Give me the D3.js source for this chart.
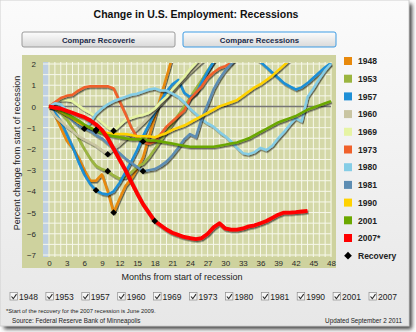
<!DOCTYPE html>
<html>
<head>
<meta charset="utf-8" />
<script src="https://cdn.jsdelivr.net/npm/d3@7"></script>
<title>Change in U.S. Employment: Recessions</title>
<style>
	body { margin: 0; background: #fff; }
	svg text { font-family: "Liberation Sans", Arial, sans-serif; }
</style>
</head>
<body>
<script>
// percent change in payroll employment, one value per month since the start of each recession
var v1948 = [0, -0.4, -1.0, -1.6, -1.95, -2.4, -3.0, -3.5, -3.5, -3.2, -4.0, -5.0, -4.35, -3.75, -3.4, -2.95, -2.4, -1.45, -0.5, 0.45, 1.4, 2.35, 3.0];
var v1953 = [0, -0.1, -0.3, -0.6, -1.0, -1.5, -2.0, -2.45, -2.8, -2.95, -3.05, -3.25, -3.4, -3.35, -3.1, -2.85, -2.7, -2.4, -2.0, -1.6, -1.2, -0.8, -0.4, 0.0, 0.4, 0.85, 1.25, 1.7, 2.1, 2.5];
var v1957 = [0, -0.3, -0.7, -1.3, -1.9, -2.6, -3.2, -3.65, -3.95, -4.1, -4.15, -4.0, -3.6, -3.1, -2.6, -2.05, -1.4, -0.85, -0.3, 0.25, 0.7, 1.05, 1.25, 0.65, 0.45, 0.6, 1.15, 1.65, 2.1, 2.5, 2.7, 2.9, 3.0, 2.8, 2.55, 2.3, 2.1, 1.85, 1.6, 1.35, 1.1, 0.95, 0.8, 0.9, 1.1, 1.35, 1.6, 1.85, 2.05];
var v1960 = [0, -0.45, -0.7, -0.95, -1.15, -1.4, -1.55, -1.7, -1.85, -2.05, -2.25, -2.0, -1.8, -1.55, -1.3, -1.05, -0.8, -0.5, -0.2, 0.1, 0.4, 0.7, 1.0, 1.3, 1.6, 1.85, 2.1, 2.4];
var v1969 = [0, 0.15, 0.3, 0.3, 0.25, 0.05, -0.15, -0.3, -0.5, -0.75, -1.0, -1.15, -0.9, -0.65, -0.55, -0.45, -0.4, -0.3, -0.1, 0.2, 0.45, 0.8, 1.1, 1.4, 1.75, 2.05, 2.4];
var v1973 = [0, 0.2, 0.4, 0.5, 0.55, 0.75, 0.9, 0.95, 0.95, 0.95, 0.95, 0.85, 0.25, -0.35, -1.0, -1.45, -1.65, -1.75, -1.65, -1.3, -0.95, -0.7, -0.45, -0.2, 0.35, 0.65, 0.95, 1.35, 1.6, 1.8, 1.9, 2.05, 2.3];
var v1980 = [0, 0.15, 0.1, -0.2, -0.6, -0.9, -1.05, -0.75, -0.35, -0.1, 0.1, 0.25, 0.35, 0.45, 0.55, 0.6, 0.7, 0.8, 0.85, 0.75, 0.75, 0.6, 0.45, 0.2, -0.1, -0.35, -0.6, -0.8, -0.95, -1.2, -1.4, -1.65, -1.95, -2.2, -2.25, -2.15, -1.95, -2.05, -1.85, -1.5, -1.2, -0.85, -0.55, -0.7, 0.45, 0.85, 1.3, 1.7, 2.0];
var v1981 = [0, -0.05, -0.2, -0.4, -0.65, -0.85, -1.0, -1.15, -1.35, -1.5, -1.75, -1.95, -2.2, -2.45, -2.65, -2.85, -3.05, -3.0, -2.95, -2.8, -2.6, -2.3, -1.95, -1.55, -1.3, -1.45, -0.55, 0.1, 0.8, 1.3, 1.7, 2.0, 2.3];
var v1990 = [0, -0.1, -0.25, -0.4, -0.55, -0.75, -0.9, -1.0, -1.1, -1.2, -1.25, -1.3, -1.3, -1.3, -1.35, -1.4, -1.4, -1.4, -1.45, -1.35, -1.25, -1.1, -1.0, -0.9, -0.75, -0.6, -0.45, -0.3, -0.15, 0.0, 0.1, 0.2, 0.3, 0.5, 0.7, 0.9, 1.05, 1.25, 1.45, 1.7, 1.95, 2.2];
var v2001 = [0, -0.05, -0.2, -0.35, -0.5, -0.65, -0.85, -1.0, -1.15, -1.25, -1.35, -1.4, -1.45, -1.5, -1.55, -1.55, -1.55, -1.6, -1.6, -1.65, -1.7, -1.75, -1.8, -1.85, -1.9, -1.9, -1.9, -1.9, -1.9, -1.85, -1.8, -1.75, -1.7, -1.6, -1.5, -1.35, -1.2, -1.05, -0.9, -0.75, -0.65, -0.55, -0.45, -0.3, -0.15, -0.05, 0.05, 0.15, 0.25];
var v2007 = [0, -0.05, -0.1, -0.2, -0.3, -0.4, -0.5, -0.65, -0.85, -1.1, -1.5, -2.0, -2.5, -3.0, -3.55, -4.1, -4.6, -5.0, -5.4, -5.6, -5.8, -5.95, -6.05, -6.15, -6.2, -6.25, -6.2, -6.0, -5.7, -5.5, -5.75, -5.8, -5.8, -5.75, -5.65, -5.6, -5.5, -5.4, -5.25, -5.1, -5.0, -5.0, -4.98, -4.95, -4.92];

var years = ["1948", "1953", "1957", "1960", "1969", "1973", "1980", "1981", "1990", "2001", "2007"];
var legendNames = ["1948", "1953", "1957", "1960", "1969", "1973", "1980", "1981", "1990", "2001", "2007*"];
var series = [v1948, v1953, v1957, v1960, v1969, v1973, v1980, v1981, v1990, v2001, v2007];
var colors = ["#e8890c", "#9bb53f", "#1e8fd6", "#c9c5a2", "#e6f4a4", "#f0612b", "#85cde6", "#5d8db3", "#ffd200", "#6ba800", "#ff0000"];
// month of the trough (start of recovery) for each recession
var troughMonth = [11, 10, 8, 10, 11, 16, 6, 16, 8, 8, 18];

var xTicks = d3.range(0, 49, 3);
var yTicks = [2, 1, 0, -1, -2, -3, -4, -5, -6, -7];

var w = 416, h = 332;
var svg = d3.select("body").append("svg")
	.attr("width", w)
	.attr("height", h);

var defs = svg.append("defs");
var bg = defs.append("linearGradient").attr("id", "bg")
	.attr("x1", 0).attr("y1", 0).attr("x2", 0).attr("y2", 1);
bg.append("stop").attr("offset", "0%").attr("stop-color", "#fbfbfb");
bg.append("stop").attr("offset", "100%").attr("stop-color", "#e7e7e7");

var btn = defs.append("linearGradient").attr("id", "btn")
	.attr("x1", 0).attr("y1", 0).attr("x2", 0).attr("y2", 1);
btn.append("stop").attr("offset", "0%").attr("stop-color", "#fdfdfd");
btn.append("stop").attr("offset", "100%").attr("stop-color", "#d9d9d9");

var shadow = defs.append("filter").attr("id", "shadow")
	.attr("x", "-10%").attr("y", "-10%").attr("width", "130%").attr("height", "130%");
shadow.append("feDropShadow")
	.attr("dx", 1).attr("dy", 1.5)
	.attr("stdDeviation", 0.7)
	.attr("flood-color", "#000")
	.attr("flood-opacity", 0.55);

var blur = defs.append("filter").attr("id", "blur");
blur.append("feGaussianBlur").attr("stdDeviation", 2);

// page frame with its drop shadow
svg.append("rect").attr("width", w).attr("height", h).attr("fill", "#fff");
svg.append("rect")
	.attr("x", 4).attr("y", 4).attr("width", 408).attr("height", 325)
	.attr("fill", "#3a3a3a")
	.attr("filter", "url(#blur)");
svg.append("rect")
	.attr("x", 0).attr("y", 0).attr("width", 409).attr("height", 326)
	.attr("fill", "url(#bg)")
	.attr("stroke", "#cfcfcf");

svg.append("text")
	.attr("x", 196).attr("y", 18)
	.attr("text-anchor", "middle")
	.attr("font-size", "10.5px")
	.attr("font-weight", "bold")
	.attr("fill", "#111")
	.text("Change in U.S. Employment: Recessions");

// the two toggle buttons
var buttons = [
	{label: "Compare Recoverie", x: 22, stroke: "#9a9a9a"},
	{label: "Compare Recessions", x: 183, stroke: "#3d9be3"}
];
buttons.forEach(function(b) {
	svg.append("rect")
		.attr("x", b.x).attr("y", 32).attr("width", 153).attr("height", 15)
		.attr("rx", 2)
		.attr("fill", "url(#btn)")
		.attr("stroke", b.stroke);
	svg.append("text")
		.attr("x", b.x + 76.5).attr("y", 42.5)
		.attr("text-anchor", "middle")
		.attr("font-size", "7.8px")
		.attr("font-weight", "bold")
		.attr("fill", "#1b2a48")
		.text(b.label);
});

// olive chart panel
svg.append("rect")
	.attr("x", 22).attr("y", 55).attr("width", 314).attr("height", 213)
	.attr("fill", "#ced29e");

var x = d3.scaleLinear().domain([0, 48]).range([49, 331]);
var y = d3.scaleLinear().domain([-7, 2]).range([255, 64]);
var plotTop = 62, plotBottom = 257;

svg.append("rect")
	.attr("x", x(0)).attr("y", plotTop)
	.attr("width", x(48) - x(0) + 1).attr("height", plotBottom - plotTop)
	.attr("fill", "#d4d8a8");

// light blue strip along the value axis
svg.append("rect")
	.attr("x", 43).attr("y", plotTop).attr("width", 5.5).attr("height", plotBottom - plotTop)
	.attr("fill", "#bfd0e2");

var grid = svg.append("g").attr("stroke", "#f7f8ea").attr("stroke-width", 1);
grid.selectAll("line.v").data(d3.range(0, 49)).enter().append("line")
	.attr("x1", function(d) { return x(d); })
	.attr("x2", function(d) { return x(d); })
	.attr("y1", plotTop).attr("y2", plotBottom);
grid.selectAll("line.h").data(d3.range(-14, 5).map(function(d) { return d / 2; })).enter().append("line")
	.attr("x1", 43).attr("x2", x(48))
	.attr("y1", function(d) { return y(d); })
	.attr("y2", function(d) { return y(d); });

svg.append("line")
	.attr("x1", x(0)).attr("x2", x(48))
	.attr("y1", y(0)).attr("y2", y(0))
	.attr("stroke", "#767676")
	.attr("stroke-width", 1.6);

// axes
var xAxis = svg.append("g")
	.attr("transform", "translate(0," + plotBottom + ")")
	.call(d3.axisBottom(x).tickValues(xTicks).tickSize(0).tickPadding(3));
var yAxis = svg.append("g")
	.attr("transform", "translate(40,0)")
	.call(d3.axisLeft(y).tickValues(yTicks).tickSize(0).tickPadding(4));
[xAxis, yAxis].forEach(function(a) {
	a.select(".domain").remove();
	a.selectAll("text")
		.attr("font-family", "Liberation Sans, Arial, sans-serif")
		.attr("font-size", "8px")
		.attr("fill", "#2a2a2a");
});

svg.append("text")
	.attr("x", 182).attr("y", 280)
	.attr("text-anchor", "middle")
	.attr("font-size", "9px")
	.attr("fill", "#222")
	.text("Months from start of recession");
svg.append("text")
	.attr("transform", "translate(20,153) rotate(-90)")
	.attr("text-anchor", "middle")
	.attr("font-size", "9px")
	.attr("fill", "#222")
	.text("Percent change from start of recession");

// recession lines
defs.append("clipPath").attr("id", "plot")
	.append("rect")
	.attr("x", 43).attr("y", plotTop + 1)
	.attr("width", x(48) - 43 + 3).attr("height", plotBottom - plotTop);

var line = d3.line()
	.x(function(d, i) { return x(i); })
	.y(function(d) { return y(d); });

var lines = svg.append("g").attr("clip-path", "url(#plot)");
lines.selectAll("path").data(series).enter().append("path")
	.attr("d", line)
	.attr("fill", "none")
	.attr("stroke", function(d, i) { return colors[i]; })
	.attr("stroke-width", function(d, i) { return i == series.length - 1 ? 3.8 : 2.5; })
	.attr("stroke-linejoin", "round")
	.attr("filter", "url(#shadow)");

// recovery markers, a square turned on its corner
var diamond = d3.symbol().type(d3.symbolSquare).size(22);
svg.append("g").selectAll("path").data(series).enter().append("path")
	.attr("transform", function(d, i) {
		return "translate(" + x(troughMonth[i]) + "," + y(d[troughMonth[i]]) + ") rotate(45)";
	})
	.attr("d", diamond)
	.attr("fill", "#000");

// legend
var legend = svg.append("g");
legendNames.forEach(function(name, i) {
	var ly = 61 + i * 17.7;
	legend.append("rect")
		.attr("x", 344).attr("y", ly - 4)
		.attr("width", 8).attr("height", 8)
		.attr("fill", colors[i]);
	legend.append("text")
		.attr("x", 358).attr("y", ly + 3.2)
		.attr("font-size", "8.5px")
		.attr("font-weight", "bold")
		.attr("fill", "#222")
		.text(name);
});
var ry = 61 + legendNames.length * 17.7;
legend.append("path")
	.attr("transform", "translate(348," + ry + ") rotate(45)")
	.attr("d", d3.symbol().type(d3.symbolSquare).size(30))
	.attr("fill", "#000");
legend.append("text")
	.attr("x", 358).attr("y", ry + 3.2)
	.attr("font-size", "8.5px")
	.attr("font-weight", "bold")
	.attr("fill", "#222")
	.text("Recovery");

// checkbox row
var checks = svg.append("g");
years.forEach(function(yr, i) {
	var cx = 10 + i * 35.9;
	checks.append("rect")
		.attr("x", cx).attr("y", 292.5)
		.attr("width", 7.5).attr("height", 7.5)
		.attr("fill", "#f6f6f6")
		.attr("stroke", "#8d8d8d")
		.attr("stroke-width", 0.7);
	checks.append("path")
		.attr("d", "M" + (cx + 1.5) + ",296.5 l1.8,2.2 l3.2,-4.6")
		.attr("fill", "none")
		.attr("stroke", "#2b2b2b")
		.attr("stroke-width", 1.1);
	checks.append("text")
		.attr("x", cx + 9).attr("y", 300)
		.attr("font-size", "8.5px")
		.attr("fill", "#222")
		.text(yr);
});

svg.append("text")
	.attr("x", 6).attr("y", 312.5)
	.attr("font-size", "5.8px")
	.attr("fill", "#222")
	.text("*Start of the recovery for the 2007 recession is June 2009.");
svg.append("text")
	.attr("x", 12).attr("y", 322.5)
	.attr("font-size", "6.3px")
	.attr("fill", "#222")
	.text("Source: Federal Reserve Bank of Minneapolis");
svg.append("text")
	.attr("x", 402).attr("y", 322.5)
	.attr("text-anchor", "end")
	.attr("font-size", "6.3px")
	.attr("fill", "#222")
	.text("Updated September 2 2011");
</script>
</body>
</html>
